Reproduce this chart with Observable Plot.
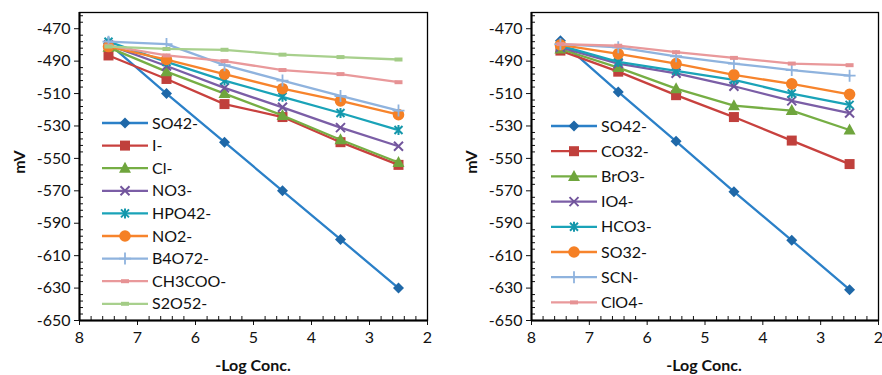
<!DOCTYPE html>
<html><head><meta charset="utf-8">
<script src="https://cdn.jsdelivr.net/npm/d3@7"></script>
<script src="https://cdn.jsdelivr.net/npm/@observablehq/plot@0.6"></script>
<style>
body{margin:0;background:#fff;}
#wrap{position:relative;width:882px;height:375px;font-family:Lato,sans-serif;overflow:hidden;}
.panel{position:absolute;top:0;}
</style></head><body><div id="wrap"></div>
<script>
// ---- data ----
const logConc = [7.5, 6.5, 5.5, 4.5, 3.5, 2.5];
const yTicks = [-650, -630, -610, -590, -570, -550, -530, -510, -490, -470];
const xTicks = [8, 7, 6, 5, 4, 3, 2];

const leftSeries = ["SO42-", "I-", "Cl-", "NO3-", "HPO42-", "NO2-", "B4O72-", "CH3COO-", "S2O52-"];
const left_SO42 = [-479, -510, -540, -570, -600, -630];
const left_I = [-486.5, -501, -516.5, -524.5, -540, -554];
const left_Cl = [-481.5, -496.5, -510, -523.5, -538.5, -552.5];
const left_NO3 = [-480, -493, -506.5, -518.5, -531, -542.5];
const left_HPO42 = [-478, -490.5, -502, -512, -522, -532.5];
const left_NO2 = [-481, -489, -498, -507, -514.5, -523];
const left_B4O72 = [-478, -479.5, -492.5, -502, -511.5, -520.5];
const left_CH3COO = [-480.5, -486.5, -490, -495.5, -498, -503];
const left_S2O52 = [-481, -482.5, -483, -486, -487.5, -489];

const rightSeries = ["SO42-", "CO32-", "BrO3-", "IO4-", "HCO3-", "SO32-", "SCN-", "ClO4-"];
const right_SO42 = [-477.5, -509, -539.5, -570.5, -600.5, -631];
const right_CO32 = [-483.5, -496.5, -511, -524.5, -539, -553.5];
const right_BrO3 = [-482.5, -494, -507, -517.5, -520.5, -532.5];
const right_IO4 = [-481.5, -491.5, -497.5, -505.5, -514.5, -522];
const right_HCO3 = [-480.5, -490.5, -496, -501.5, -510, -517];
const right_SO32 = [-480, -485.5, -491.5, -498.5, -504, -510.5];
const right_SCN = [-479.5, -481.5, -487, -491.5, -495.5, -499];
const right_ClO4 = [-479.5, -480.5, -484.5, -488, -491.5, -492.5];

const lineColors = ["#2b80c8", "#c8413e", "#76ae44", "#7b5ea6", "#1aa3b8", "#f7842c", "#8fb3de", "#e9999b", "#a8d08d"];
const markerColors = ["#1f68a8", "#c0403c", "#6fa53d", "#72559c", "#1597ab", "#f58025", "#8fb3de", "#e69294", "#a3cc86"];
const leftMarkers = ["diamond", "square", "triangle", "times", "asterisk", "circle", "plus", "dash", "dash"];
const rightMarkers = ["diamond", "square", "triangle", "times", "asterisk", "circle", "plus", "dash"];

// ---- marker shapes ----
const symbols = {
  diamond: {filled: true, draw(c){ c.moveTo(0,-5.5); c.lineTo(5.5,0); c.lineTo(0,5.5); c.lineTo(-5.5,0); c.closePath(); }},
  square: {filled: true, draw(c){ c.rect(-5,-5,10,10); }},
  triangle: {filled: true, draw(c){ c.moveTo(0,-6.5); c.lineTo(6,4.5); c.lineTo(-6,4.5); c.closePath(); }},
  circle: {filled: true, draw(c){ c.moveTo(5.8,0); c.arc(0,0,5.8,0,2*Math.PI); }},
  times: {filled: false, sw: 2, draw(c){ c.moveTo(-4.5,-4.5); c.lineTo(4.5,4.5); c.moveTo(4.5,-4.5); c.lineTo(-4.5,4.5); }},
  asterisk: {filled: false, sw: 2, draw(c){ c.moveTo(-4,-4); c.lineTo(4,4); c.moveTo(4,-4); c.lineTo(-4,4); c.moveTo(0,-5); c.lineTo(0,5); }},
  plus: {filled: false, sw: 1.8, draw(c){ c.moveTo(-6,0); c.lineTo(6,0); c.moveTo(0,-6); c.lineTo(0,6); }},
  dash: {filled: true, draw(c){ c.rect(-4,-2,8,4); }}
};

const minorY = d3.range(-650, -459, 4).filter(v => !yTicks.includes(v));
const minorX = d3.range(20, 81, 2).map(v => v / 10).filter(v => !xTicks.includes(v));
const fmt = d => String(d);

function makePanel(names, values, markers, ml, mr, width) {
  const marks = [
    Plot.axisY({ticks: yTicks, tickSize: 5, tickPadding: 4, tickFormat: fmt, label: null, fontSize: 16}),
    Plot.axisY({ticks: minorY, tickSize: 4, dx: 4, tickFormat: () => "", label: null}),
    Plot.axisX({ticks: xTicks, tickSize: 5, tickPadding: 6, tickFormat: fmt, label: null, fontSize: 16}),
    Plot.axisX({ticks: minorX, tickSize: 4, dy: -4, tickFormat: () => "", label: null}),
    Plot.frame({stroke: "#000", strokeWidth: 1.3})
  ];
  names.forEach((name, i) => {
    const rows = values[i].map((v, j) => ({x: logConc[j], y: v}));
    marks.push(Plot.line(rows, {x: "x", y: "y", stroke: lineColors[i], strokeWidth: 2.3}));
    const s = symbols[markers[i]];
    marks.push(Plot.dot(rows, {x: "x", y: "y", symbol: s,
      fill: s.filled ? markerColors[i] : "none",
      stroke: s.filled ? "none" : markerColors[i],
      strokeWidth: s.sw || 1}));
  });
  marks.push(Plot.ruleX([8], {stroke: "#000", strokeWidth: 2}));
  marks.push(Plot.ruleY([-650], {stroke: "#000", strokeWidth: 2}));
  return Plot.plot({
    width, height: 375,
    marginLeft: ml, marginRight: mr, marginTop: 12, marginBottom: 55,
    style: {fontFamily: "Lato, sans-serif", fontSize: "16px", color: "#111", background: "transparent"},
    x: {domain: [8, 2]},
    y: {domain: [-650, -460]},
    marks
  });
}

const wrap = document.getElementById("wrap");
function place(node, left) {
  node.classList.add("panel");
  node.style.left = left + "px";
  wrap.appendChild(node);
}
place(makePanel(leftSeries, [left_SO42, left_I, left_Cl, left_NO3, left_HPO42, left_NO2, left_B4O72, left_CH3COO, left_S2O52], leftMarkers, 79, 14, 441), 0);
place(makePanel(rightSeries, [right_SO42, right_CO32, right_BrO3, right_IO4, right_HCO3, right_SO32, right_SCN, right_ClO4], rightMarkers, 90, 4, 441), 441);

// ---- overlay: legends and axis titles ----
const ov = d3.select(wrap).append("svg")
  .attr("width", 882).attr("height", 375)
  .style("position", "absolute").style("left", 0).style("top", 0)
  .style("font-family", "Lato, sans-serif");

function legend(names, markers, x0, y0, dy) {
  names.forEach((name, i) => {
    const y = y0 + i * dy;
    ov.append("line").attr("x1", x0).attr("x2", x0 + 46).attr("y1", y).attr("y2", y)
      .attr("stroke", lineColors[i]).attr("stroke-width", 2.3);
    const s = symbols[markers[i]];
    const p = d3.path(); s.draw(p);
    ov.append("path").attr("d", p.toString()).attr("transform", `translate(${x0 + 23},${y})`)
      .attr("fill", s.filled ? markerColors[i] : "none")
      .attr("stroke", s.filled ? "none" : markerColors[i])
      .attr("stroke-width", s.sw || 1);
    ov.append("text").attr("x", x0 + 50).attr("y", y).attr("dy", "0.35em")
      .attr("font-size", 16).attr("fill", "#111").text(name);
  });
}
legend(leftSeries, leftMarkers, 102, 123, 22.6);
legend(rightSeries, rightMarkers, 551, 126, 25.2);

function titles(cx, mvx) {
  ov.append("text").attr("x", cx).attr("y", 365).attr("dy", "0.35em").attr("text-anchor", "middle")
    .attr("font-size", 16).attr("font-weight", "bold").attr("fill", "#111").text("-Log Conc.");
  ov.append("text").attr("transform", `translate(${mvx},162) rotate(-90)`).attr("dy", "0.35em")
    .attr("text-anchor", "middle").attr("font-size", 16).attr("font-weight", "bold").attr("fill", "#111").text("mV");
}
titles(253, 19);
titles(704, 471);
</script></body></html>
